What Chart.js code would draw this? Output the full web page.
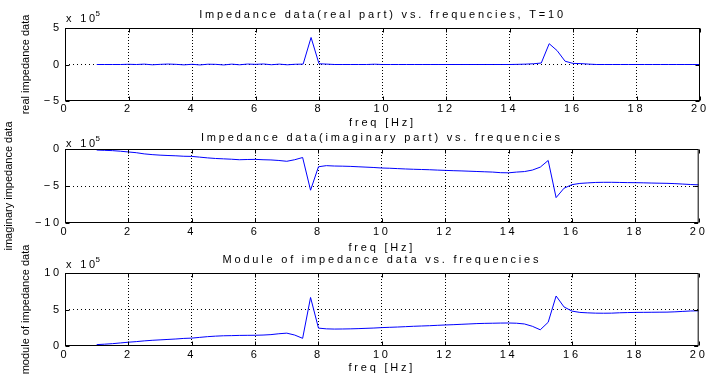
<!DOCTYPE html>
<html>
<head>
<meta charset="utf-8">
<title>Impedance data vs. frequencies</title>
<script src="https://cdn.jsdelivr.net/npm/chart.js@4.4.1/dist/chart.umd.min.js"></script>
<style>
  html, body { margin: 0; padding: 0; background: #fff; }
  #figure { position: relative; width: 710px; height: 376px; overflow: hidden; background: #fff; }
  #figure canvas { position: absolute; left: 0; }
</style>
</head>
<body>
<div id="figure">
  <canvas id="chartReal" width="710" height="135" style="top:0px"></canvas>
  <canvas id="chartImag" width="710" height="148" style="top:110px"></canvas>
  <canvas id="chartModule" width="710" height="136" style="top:240px"></canvas>
</div>
<script>
// frequencies, Hz
const freqHz = [
  1, 1.25, 1.5, 1.75, 2, 2.25, 2.5, 2.75, 3, 3.25, 3.5, 3.75, 4, 4.25, 4.5, 4.75,
  5, 5.25, 5.5, 5.75, 6, 6.25, 6.5, 6.75, 7, 7.25, 7.5, 7.75, 8, 8.25, 8.5, 8.75,
  9, 9.25, 9.5, 9.75, 10, 10.25, 10.5, 10.75, 11, 11.25, 11.5, 11.75, 12, 12.25, 12.5, 12.75,
  13, 13.25, 13.5, 13.75, 14, 14.25, 14.5, 14.75, 15, 15.25, 15.5, 15.75, 16, 16.25, 16.5, 16.75,
  17, 17.25, 17.5, 17.75, 18, 18.25, 18.5, 18.75, 19, 19.25, 19.5, 19.75, 20
];

// impedance values, all in units of 10^5
const realPart = [
  0, 0, 0, 0,
  0.03, 0, 0.05, -0.04,
  0.02, 0.06, 0.02, -0.05,
  0.03, -0.06, 0.04, 0.02,
  -0.06, 0.05, -0.04, 0.06,
  0.02, 0.07, -0.03, 0.05,
  -0.04, 0.03, 0.05, 3.7,
  0.1, 0.05, 0, 0,
  0, 0, 0, 0.04,
  0, 0, 0, 0,
  0, 0, 0, 0,
  0, 0, 0, 0,
  0, 0, 0, 0,
  0, 0.02, 0.05, 0.1,
  0.2, 2.85, 1.9, 0.45,
  0.15, 0.12, 0.05, 0,
  0, 0, 0, 0,
  0, 0, 0, 0,
  0, 0, 0, 0,
  0
];

const imagPart = [
  -0.14, -0.18, -0.22, -0.3,
  -0.4, -0.5, -0.66, -0.76,
  -0.83, -0.88, -0.92, -0.98,
  -1.0, -1.1, -1.2, -1.28,
  -1.33, -1.38, -1.45, -1.42,
  -1.4, -1.45, -1.48, -1.55,
  -1.66, -1.45, -1.15, -5.57,
  -2.4, -2.25, -2.3, -2.32,
  -2.35, -2.4, -2.45, -2.5,
  -2.57, -2.6, -2.65, -2.7,
  -2.74, -2.77, -2.8, -2.85,
  -2.89, -2.93, -2.96, -3.0,
  -3.04, -3.08, -3.12, -3.2,
  -3.22, -3.12, -3.05, -2.85,
  -2.45, -1.55, -6.57, -5.3,
  -4.82, -4.65, -4.58, -4.52,
  -4.5, -4.5, -4.52, -4.54,
  -4.55, -4.57, -4.6, -4.62,
  -4.64, -4.68, -4.74, -4.8,
  -4.84
];

const modulus = [
  0.19, 0.25, 0.32, 0.42,
  0.52, 0.6, 0.7, 0.78,
  0.84, 0.9, 0.96, 1.04,
  1.08, 1.18, 1.28, 1.35,
  1.4, 1.42, 1.45, 1.46,
  1.47, 1.5, 1.56, 1.68,
  1.76, 1.5, 1.05, 6.65,
  2.45, 2.35, 2.32, 2.33,
  2.35, 2.38, 2.42, 2.46,
  2.52, 2.56, 2.6, 2.65,
  2.7, 2.74, 2.78, 2.83,
  2.88, 2.92, 2.97, 3.02,
  3.07, 3.1, 3.12, 3.14,
  3.15, 3.12, 3.02, 2.7,
  2.22, 3.25, 6.85, 5.35,
  4.78, 4.6, 4.54, 4.5,
  4.49, 4.5, 4.55, 4.58,
  4.6, 4.61, 4.62, 4.63,
  4.64, 4.68, 4.74, 4.8,
  4.82
];

const xTicks = { min: 0, max: 20, step: 2 };
const yStep = 5;

const FONT = "'Liberation Sans', Arial, sans-serif";
const TEXT_SPACING = '2.8px';

Chart.defaults.font.family = FONT;
Chart.defaults.font.size = 11;
Chart.defaults.color = '#000';

// box, inward ticks, the "x 10^5" exponent and the rotated y label
const matlabAxes = {
  id: 'matlabAxes',
  beforeUpdate(chart) { chart.ctx.letterSpacing = TEXT_SPACING; },
  beforeDraw(chart) { chart.ctx.letterSpacing = TEXT_SPACING; },
  afterDraw(chart, args, opts) {
    const { ctx, chartArea: a, scales } = chart;
    const L = a.left + 0.5, R = a.right - 0.5, T = a.top + 0.5, B = a.bottom - 0.5;
    ctx.save();
    ctx.strokeStyle = '#000';
    ctx.lineWidth = 1;
    ctx.setLineDash([]);
    ctx.strokeRect(L, T, R - L, B - T);

    ctx.beginPath();
    scales.x.ticks.forEach(t => {
      const px = Math.round(scales.x.getPixelForValue(t.value)) + 0.5;
      ctx.moveTo(px, B); ctx.lineTo(px, B - 4);
      ctx.moveTo(px, T); ctx.lineTo(px, T + 4);
    });
    scales.y.ticks.forEach(t => {
      const py = Math.round(scales.y.getPixelForValue(t.value)) + 0.5;
      ctx.moveTo(L, py); ctx.lineTo(L + 4, py);
      ctx.moveTo(R, py); ctx.lineTo(R - 4, py);
    });
    ctx.stroke();

    ctx.fillStyle = '#000';
    ctx.textAlign = 'left';
    ctx.textBaseline = 'alphabetic';
    ctx.font = '11px ' + FONT;
    const base = a.top - opts.exponentGap;
    ctx.fillText('x 10', a.left + 1, base);
    const w = ctx.measureText('x 10').width;
    ctx.letterSpacing = '0px';
    ctx.font = '8px ' + FONT;
    ctx.fillText('5', a.left + w - 1.5, base - 6);

    ctx.font = '11px ' + FONT;
    ctx.translate(opts.labelX, (a.top + a.bottom) / 2);
    ctx.rotate(-Math.PI / 2);
    ctx.textAlign = 'center';
    ctx.textBaseline = 'middle';
    ctx.fillText(opts.label, 0, 0);
    ctx.restore();
  }
};

// dotted grid, but nothing on the box edges
function gridColor(c) {
  const s = c.scale;
  if (!c.tick || c.tick.value === s.min || c.tick.value === s.max) return 'rgba(0,0,0,0)';
  return '#000';
}

function impedancePlot(canvasId, cfg) {
  return new Chart(document.getElementById(canvasId), {
    type: 'line',
    data: {
      datasets: [{
        data: freqHz.map((f, i) => ({ x: f, y: cfg.values[i] })),
        borderColor: '#0000ff',
        borderWidth: 1,
        pointRadius: 0,
        tension: 0,
        fill: false
      }]
    },
    options: {
      responsive: false,
      animation: false,
      events: [],
      layout: { padding: { left: 0, right: 10, top: 0, bottom: 0 } },
      plugins: {
        legend: { display: false },
        tooltip: { enabled: false },
        title: {
          display: true,
          text: cfg.title,
          fullSize: false,
          color: '#000',
          font: { weight: 'normal', size: 11 },
          padding: cfg.titlePadding
        },
        matlabAxes: { label: cfg.yLabel, labelX: cfg.yLabelX, exponentGap: cfg.exponentGap }
      },
      scales: {
        x: {
          type: 'linear',
          min: xTicks.min,
          max: xTicks.max,
          ticks: { stepSize: xTicks.step, padding: cfg.tickPadding, maxRotation: 0, color: '#000' },
          grid: { drawTicks: false, color: gridColor },
          border: { display: false, dash: [1, 2] },
          title: {
            display: true,
            text: 'freq [Hz]',
            color: '#000',
            padding: { top: 0, bottom: cfg.xTitlePadding }
          },
          afterFit: s => { s.height = cfg.xAxisHeight; }
        },
        y: {
          min: cfg.yMin,
          max: cfg.yMax,
          ticks: {
            stepSize: yStep,
            padding: 3,
            color: '#000',
            callback: v => String(v).replace('-', '\u2212')
          },
          grid: { drawTicks: false, color: gridColor },
          border: { display: false, dash: [1, 3] },
          afterFit: s => { s.width = 65; }
        }
      }
    },
    plugins: [matlabAxes]
  });
}

impedancePlot('chartReal', {
  values: realPart,
  title: 'Impedance data(real part) vs. frequencies, T=10',
  yLabel: 'real impedance data',
  yLabelX: 26,
  yMin: -5, yMax: 5,
  titlePadding: { top: 8.4, bottom: 6.4 },
  xAxisHeight: 34,
  tickPadding: 1,
  xTitlePadding: 5.4,
  exponentGap: 6
});

impedancePlot('chartImag', {
  values: imagPart,
  title: 'Impedance data(imaginary part) vs. frequencies',
  yLabel: 'imaginary impedance data',
  yLabelX: 9,
  yMin: -10, yMax: 0,
  titlePadding: { top: 21.4, bottom: 4.4 },
  xAxisHeight: 35,
  tickPadding: 2.4,
  xTitlePadding: 3.4,
  exponentGap: 2
});

impedancePlot('chartModule', {
  values: modulus,
  title: 'Module of impedance data vs. frequencies',
  yLabel: 'module of impedance data',
  yLabelX: 26,
  yMin: 0, yMax: 10,
  titlePadding: { top: 13.4, bottom: 6.4 },
  xAxisHeight: 30,
  tickPadding: 2.4,
  xTitlePadding: 1.4,
  exponentGap: 5
});
</script>
</body>
</html>
